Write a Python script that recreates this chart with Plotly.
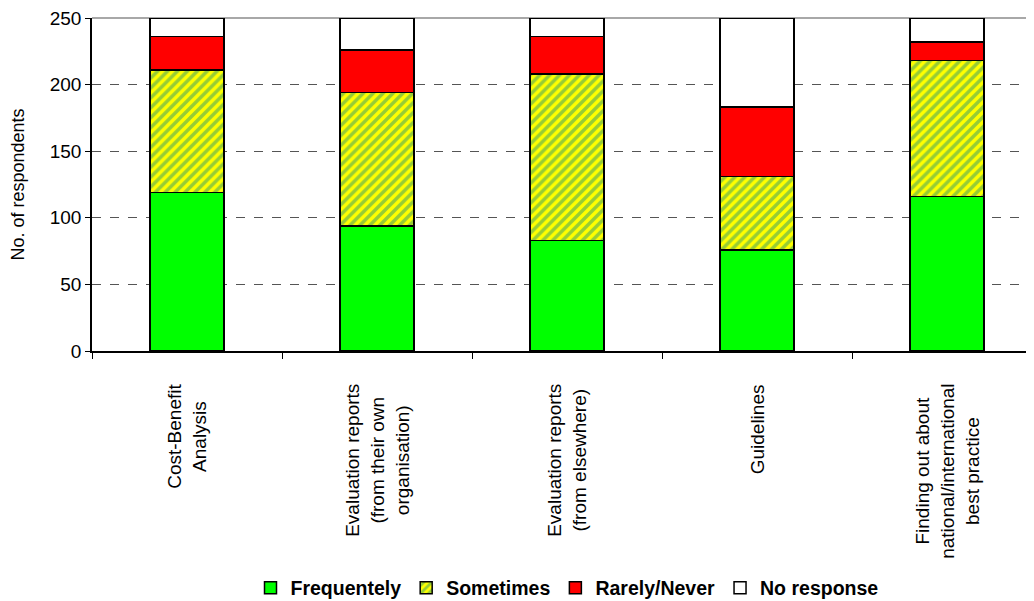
import plotly.graph_objects as go

categories = [
    "Cost-Benefit<br>Analysis",
    "Evaluation reports<br>(from their own<br>organisation)",
    "Evaluation reports<br>(from elsewhere)",
    "Guidelines",
    "Finding out about<br>national/international<br>best practice",
]
cat_keys = ["CBA", "EvalOwn", "EvalElse", "Guide", "Best"]

frequently = [119, 94, 83, 76, 116]
sometimes = [92, 100, 125, 55, 102]
rarely = [25, 32, 28, 52, 14]
no_response = [14, 24, 14, 67, 18]

y_ticks = [0, 50, 100, 150, 200, 250]

FONT = "Liberation Sans, Arial, sans-serif"

fig = go.Figure()
bar_w = 0.39
line = dict(color="black", width=1.5)
fig.add_bar(name="Frequentely", x=cat_keys, y=frequently, width=bar_w,
            marker=dict(color="#00FF00", line=line))
fig.add_bar(name="Sometimes", x=cat_keys, y=sometimes, width=bar_w,
            marker=dict(color="#FFFF00", line=line,
                        pattern=dict(shape="/", fgcolor="#2E9A6A", bgcolor="#FFFF00",
                                     size=7, solidity=0.5, fillmode="overlay")))
fig.add_bar(name="Rarely/Never", x=cat_keys, y=rarely, width=bar_w,
            marker=dict(color="#FF0000", line=line))
fig.add_bar(name="No response", x=cat_keys, y=no_response, width=bar_w,
            marker=dict(color="#FFFFFF", line=line))

annotations = []
for k, lab in zip(cat_keys, categories):
    annotations.append(dict(x=k, xref="x", y=-0.094, yref="paper", text=lab,
                            textangle=-90, showarrow=False, yanchor="top",
                            xanchor="center", align="center",
                            font=dict(family=FONT, size=19, color="black")))

fig.update_layout(
    barmode="stack",
    width=1034, height=601,
    margin=dict(l=84, r=0, t=10, b=258),
    plot_bgcolor="white", paper_bgcolor="white",
    font=dict(family=FONT, size=18, color="black"),
    annotations=annotations,
    legend=dict(orientation="h", x=0.5, xanchor="center", y=-0.712, yanchor="middle",
                font=dict(family=FONT, size=19.5, color="black", weight="bold"),
                traceorder="normal", itemwidth=30, tracegroupgap=0),
    xaxis=dict(range=[-0.5, 4.5], showticklabels=False, ticks="outside",
               tickson="boundaries", ticklen=6, tickcolor="black",
               showline=True, linecolor="black", linewidth=1.5,
               showgrid=False, zeroline=False, automargin=False),
    yaxis=dict(range=[0, 250], tickvals=y_ticks, ticks="outside", ticklen=5,
               tickcolor="black", showline=True, linecolor="black", linewidth=1.5,
               showgrid=True, gridcolor="#555555", griddash="dash", gridwidth=1,
               zeroline=False, automargin=False, ticklabeloverflow="allow",
               title=dict(text="No. of respondents", standoff=20,
                          font=dict(family=FONT, size=18, color="black")),
               tickfont=dict(family=FONT, size=19, color="black")),
    shapes=[dict(type="line", xref="paper", yref="paper", x0=0, x1=1, y0=1, y1=1,
                 line=dict(color="#A8A8A8", width=2), layer="below")],
)

fig.write_html("out.html")
